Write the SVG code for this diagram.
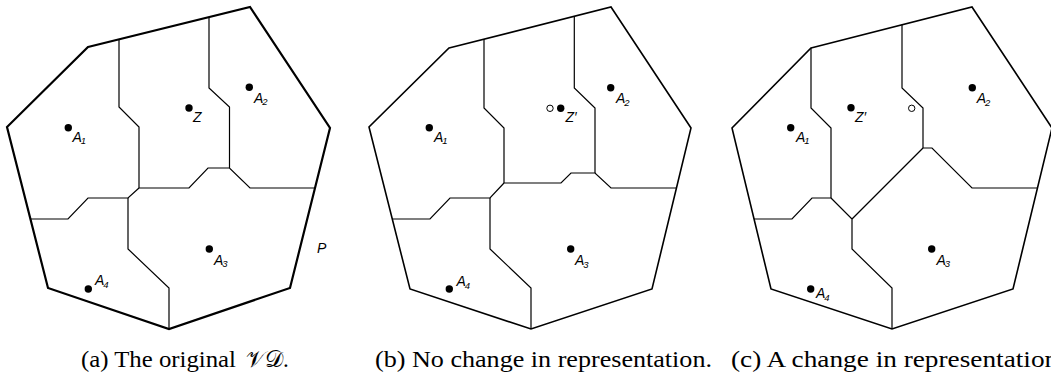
<svg xmlns="http://www.w3.org/2000/svg" width="1051" height="378" viewBox="0 0 1051 378">
<style>
.bd{fill:none;stroke:#000;stroke-linejoin:miter}
.ba{stroke-width:2.2}
.bb{stroke-width:1.6}
.ed{fill:none;stroke:#000;stroke-width:1.2;stroke-linejoin:miter}
.dot{fill:#000}
.open{fill:#fff;stroke:#000;stroke-width:1}
.lbl{font-family:"Liberation Sans",Arial,sans-serif;font-style:italic;font-size:14px;fill:#000}
.sub{font-size:9.5px}
.cap{font-family:"Liberation Serif","Times New Roman",serif;font-size:23px;fill:#000}
</style>
<rect width="1051" height="378" fill="#fff"/>

<g id="panel-a">
  <polygon class="bd ba" points="88,47 250,7 330,128 290,288 169,329 48,288 7,127"/>
  <g id="edges-a">
    <path class="ed" d="M119,39.3 V107 L139,127 V188 H189 L208,168 H229.5 L250,188 H315"/>
    <path class="ed" d="M209,17.1 V88 L229.5,107 V168"/>
    <path class="ed" d="M139,188 L128,198 H88 L68,219 H30.5"/>
    <path class="ed" d="M128,198 V249 L169,288 V329"/>
  </g>
  <g id="sites-a">
    <circle class="dot" cx="68.3" cy="127.7" r="3.7"/>
    <circle class="dot" cx="189" cy="108" r="3.7"/>
    <circle class="dot" cx="249.3" cy="87.3" r="3.7"/>
    <circle class="dot" cx="209.3" cy="249" r="3.7"/>
    <circle class="dot" cx="88.3" cy="289" r="3.7"/>
    <text class="lbl" x="72.5" y="141.7">A<tspan class="sub" dx="-1" dy="2.5">1</tspan></text>
    <text class="lbl" x="193" y="122">Z</text>
    <text class="lbl" x="254" y="102.7">A<tspan class="sub" dx="-1" dy="2.5">2</tspan></text>
    <text class="lbl" x="214" y="264.5">A<tspan class="sub" dx="-1" dy="2.5">3</tspan></text>
    <text class="lbl" x="95" y="285">A<tspan class="sub" dx="-1" dy="2.5">4</tspan></text>
    <text class="lbl" x="317" y="253">P</text>
  </g>
</g>

<g id="panel-b">
  <polygon class="bd bb" points="449,48 611,7 691,128 652,289 531,329 410,289 369,127"/>
  <g id="edges-b">
    <path class="ed" d="M484,39.1 V108 L504,128 V183 H561 L571,173 H595 L611,188 H676.5"/>
    <path class="ed" d="M574.3,16.4 V88 L595,108 V173"/>
    <path class="ed" d="M504,183 L490,198 H450 L430,219 H392.3"/>
    <path class="ed" d="M490,198 V249 L531,288 V329"/>
  </g>
  <g id="sites-b">
    <circle class="dot" cx="429.3" cy="127.7" r="3.7"/>
    <circle class="dot" cx="560.7" cy="108.3" r="3.7"/>
    <circle class="open" cx="550" cy="108.3" r="3.2"/>
    <circle class="dot" cx="610.7" cy="87.7" r="3.7"/>
    <circle class="dot" cx="570.7" cy="249" r="3.7"/>
    <circle class="dot" cx="449.3" cy="289" r="3.7"/>
    <text class="lbl" x="434" y="141.7">A<tspan class="sub" dx="-1" dy="2.5">1</tspan></text>
    <text class="lbl" x="565.5" y="121.7">Z′</text>
    <text class="lbl" x="616" y="103.3">A<tspan class="sub" dx="-1" dy="2.5">2</tspan></text>
    <text class="lbl" x="575" y="265">A<tspan class="sub" dx="-1" dy="2.5">3</tspan></text>
    <text class="lbl" x="456.5" y="286">A<tspan class="sub" dx="-1" dy="2.5">4</tspan></text>
  </g>
</g>

<g id="panel-c">
  <polygon class="bd bb" points="811,48 972,7 1052,128 1013,289 892,329 771,289 732,128"/>
  <g id="edges-c">
    <path class="ed" d="M811,48 V108 L831,128 V198"/>
    <path class="ed" d="M831,198 H812 L792,219 H754"/>
    <path class="ed" d="M831,198 L852,219 V249 L892,288 V329"/>
    <path class="ed" d="M852,219 L923,148"/>
    <path class="ed" d="M902,24.8 V88 L923,108 V148 H932 L972,188 H1037.5"/>
  </g>
  <g id="sites-c">
    <circle class="dot" cx="790.7" cy="127.7" r="3.7"/>
    <circle class="dot" cx="851" cy="107.7" r="3.7"/>
    <circle class="open" cx="911.7" cy="108.3" r="3.2"/>
    <circle class="dot" cx="972.3" cy="87.7" r="3.7"/>
    <circle class="dot" cx="931.7" cy="249" r="3.7"/>
    <circle class="dot" cx="810.7" cy="289" r="3.7"/>
    <text class="lbl" x="796" y="141.7">A<tspan class="sub" dx="-1" dy="2.5">1</tspan></text>
    <text class="lbl" x="855" y="121.7">Z′</text>
    <text class="lbl" x="976.7" y="103.3">A<tspan class="sub" dx="-1" dy="2.5">2</tspan></text>
    <text class="lbl" x="936.5" y="264.5">A<tspan class="sub" dx="-1" dy="2.5">3</tspan></text>
    <text class="lbl" x="816" y="298.3">A<tspan class="sub" dx="-1" dy="2.5">4</tspan></text>
  </g>
</g>

<g id="captions">
  <text class="cap" x="81" y="367" textLength="155" lengthAdjust="spacingAndGlyphs">(a) The original</text>
  <text class="cap" x="246" y="367">𝒱𝒟.</text>
  <text class="cap" x="375" y="367" textLength="337" lengthAdjust="spacingAndGlyphs">(b) No change in representation.</text>
  <text class="cap" x="731" y="367" textLength="334" lengthAdjust="spacingAndGlyphs">(c) A change in representation.</text>
</g>
</svg>
